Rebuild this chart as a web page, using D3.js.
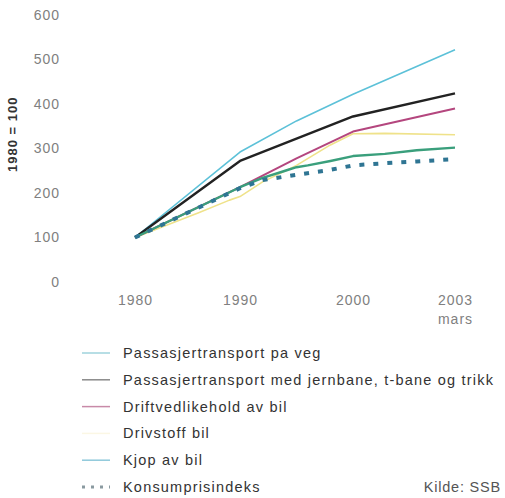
<!DOCTYPE html>
<html>
<head>
<meta charset="utf-8">
<script src="https://cdn.jsdelivr.net/npm/d3@7/dist/d3.min.js"></script>
<style>
  html, body { margin: 0; padding: 0; background: #fff; }
  svg { display: block; }
  text { font-family: "Liberation Sans", "DejaVu Sans", sans-serif; }
</style>
</head>
<body>
<svg id="chart" width="505" height="498"></svg>
<script>
// Price indices for transport, 1980 = 100
const seriesNames = [
  "Passasjertransport pa veg",
  "Passasjertransport med jernbane, t-bane og trikk",
  "Driftvedlikehold av bil",
  "Drivstoff bil",
  "Kjop av bil",
  "Konsumprisindeks"
];
const seriesColors = ["#5cc1d8", "#222222", "#b4467e", "#efe28a", "#3a9f7c", "#2f7593"];
const legendColors = ["#9fd3dd", "#8a8a8a", "#c88aa8", "#fbf7e4", "#8fc9db", "#8a9aa0"];

const yearsRoad = [1980, 1990, 1995, 2000, 2003.2];
const valuesRoad = [100, 292, 362, 422, 522];

const yearsRail = [1980, 1990, 1995, 2000, 2003.2];
const valuesRail = [100, 272, 322, 372, 424];

const yearsMaint = [1980, 1990, 1995, 2000, 2003.2];
const valuesMaint = [100, 213, 278, 338, 390];

const yearsFuel = [1980, 1986, 1989, 1990, 1992, 1995, 1998, 2000, 2001, 2003.2];
const valuesFuel = [100, 155, 184, 192, 225, 262, 308, 333, 334, 331];

const yearsCar = [1980, 1990, 1992, 1994, 1995, 1996, 1998, 2000, 2001, 2002, 2003.2];
const valuesCar = [100, 213, 234, 250, 258, 262, 272, 283, 288, 296, 302];

const yearsCpi = [1980, 1990, 1992, 1995, 1998, 2000, 2001, 2002, 2003.2];
const valuesCpi = [100, 211, 229, 241, 252, 262, 267, 271, 276];

const yTicks = [0, 100, 200, 300, 400, 500, 600];
const xTickYears = [1980, 1990, 2000, 2003.2];
const xTickLabels = [["1980"], ["1990"], ["2000"], ["2003", "mars"]];
const yTitle = "1980 = 100";
const sourceText = "Kilde: SSB";

const series = [
  { years: yearsRoad, values: valuesRoad, width: 1.6, dash: null },
  { years: yearsRail, values: valuesRail, width: 2.4, dash: null },
  { years: yearsMaint, values: valuesMaint, width: 2, dash: null },
  { years: yearsFuel, values: valuesFuel, width: 1.6, dash: null },
  { years: yearsCar, values: valuesCar, width: 2.4, dash: null },
  { years: yearsCpi, values: valuesCpi, width: 4, dash: "5,9" }
].map((s, i) => ({ ...s, name: seriesNames[i], color: seriesColors[i], legendColor: legendColors[i] }));

const svg = d3.select("#chart");

// Years are spaced unevenly along the axis: one segment per decade, then the last stretch.
const x = d3.scaleLinear().domain([1980, 1990, 2000, 2003.2]).range([135, 240, 353, 455]);
const y = d3.scaleLinear().domain([0, 600]).range([282, 15]);

// Y axis: labels only
const yAxis = svg.append("g")
  .attr("transform", "translate(62,0)")
  .call(d3.axisLeft(y).tickValues(yTicks).tickSize(0).tickPadding(2));
yAxis.select(".domain").remove();
yAxis.selectAll("text")
  .style("font-size", "14px")
  .style("letter-spacing", "1px")
  .attr("fill", "#808080");

svg.append("text")
  .attr("transform", `translate(17,${(y(300) + y(400)) / 2 + 8}) rotate(-90)`)
  .attr("text-anchor", "middle")
  .style("font-size", "13px")
  .style("letter-spacing", "1px")
  .style("font-weight", "bold")
  .attr("fill", "#333")
  .text(yTitle);

// X axis: labels only
const xAxis = svg.append("g")
  .attr("transform", "translate(0,292)")
  .call(d3.axisBottom(x).tickValues(xTickYears).tickSize(0).tickFormat(() => ""));
xAxis.select(".domain").remove();
xAxis.selectAll(".tick text").each(function(d, i) {
  const t = d3.select(this).attr("dy", null).attr("y", 13);
  xTickLabels[i].forEach((line, k) => {
    t.append("tspan").attr("x", 0).attr("dy", k === 0 ? 0 : 19).text(line);
  });
});
xAxis.selectAll("text")
  .style("font-size", "14px")
  .style("letter-spacing", "1px")
  .attr("fill", "#808080");

// Lines, drawn in order so the lowest index ends up beneath
const line = d3.line().x(d => x(d[0])).y(d => y(d[1]));
const drawOrder = [3, 2, 0, 1, 4, 5];
svg.append("g").selectAll("path")
  .data(drawOrder.map(i => series[i]))
  .join("path")
  .attr("d", s => line(s.years.map((yr, k) => [yr, s.values[k]])))
  .attr("fill", "none")
  .attr("stroke", s => s.color)
  .attr("stroke-width", s => s.width)
  .attr("stroke-dasharray", s => s.dash)
  .attr("stroke-linejoin", "round");

// Legend
const legend = d3.scaleLinear().domain([0, 5]).range([353, 487]);
const lg = svg.append("g").selectAll("g")
  .data(series)
  .join("g")
  .attr("transform", (s, i) => `translate(0,${legend(i)})`);
lg.append("line")
  .attr("x1", 82).attr("x2", 110)
  .attr("stroke", s => s.legendColor)
  .attr("stroke-width", s => s.dash ? 3 : 1.5)
  .attr("stroke-dasharray", s => s.dash ? "3,6" : null);
lg.append("text")
  .attr("x", 123)
  .attr("dy", "0.35em")
  .style("font-size", "14.5px")
  .style("letter-spacing", "1.2px")
  .attr("fill", "#333")
  .text(s => s.name);

svg.append("text")
  .attr("x", 501)
  .attr("y", legend(5))
  .attr("dy", "0.35em")
  .attr("text-anchor", "end")
  .style("font-size", "14.5px")
  .style("letter-spacing", "0.8px")
  .attr("fill", "#555")
  .text(sourceText);
</script>
</body>
</html>
